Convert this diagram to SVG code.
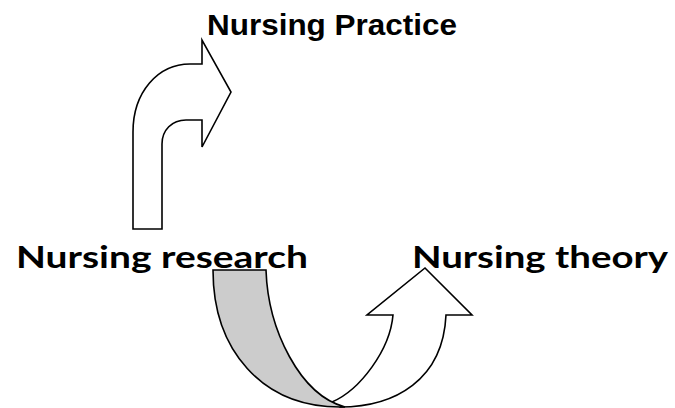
<svg xmlns="http://www.w3.org/2000/svg" width="675" height="408" viewBox="0 0 675 408">
<style>
.shape{stroke:#000;stroke-width:1.6;stroke-linejoin:miter}
.white{fill:#fff}
.gray{fill:#cccccc}
.big{font-family:Lato,"Open Sans","Liberation Sans",sans-serif;font-weight:bold;font-size:31px;fill:#000}
.small{font-family:"Liberation Sans",Arial,sans-serif;font-weight:bold;font-size:30px;fill:#000}
</style>
<rect width="675" height="408" fill="#fff"/>
<g id="connectors">
<path class="shape white" d="M133 229 L133 132 C133 92 158 64 190 64 L202 64 L202 40 L231 92 L202 147 L202 120 L186 120 C172 120 162 130 162 144 L162 229 Z"/>
<path class="shape white" d="M332 402 C360 390 390 350 393 315 L367 315 L425 268 L472 315 L446 315 C443 380 395 407 340 407 Z"/>
<path class="shape gray" d="M213 270 L266 270 C268 330 300 395 345 407 L340 407 C262 407 213 350 213 270 Z"/>
</g>
<g id="nursing-practice"><text class="small" x="207" y="35" textLength="250" lengthAdjust="spacingAndGlyphs">Nursing Practice</text></g>
<g id="nursing-research"><text class="big" x="16" y="268" textLength="292" lengthAdjust="spacingAndGlyphs">Nursing research</text></g>
<g id="nursing-theory"><text class="big" x="412" y="268" textLength="256" lengthAdjust="spacingAndGlyphs">Nursing theory</text></g>
</svg>
